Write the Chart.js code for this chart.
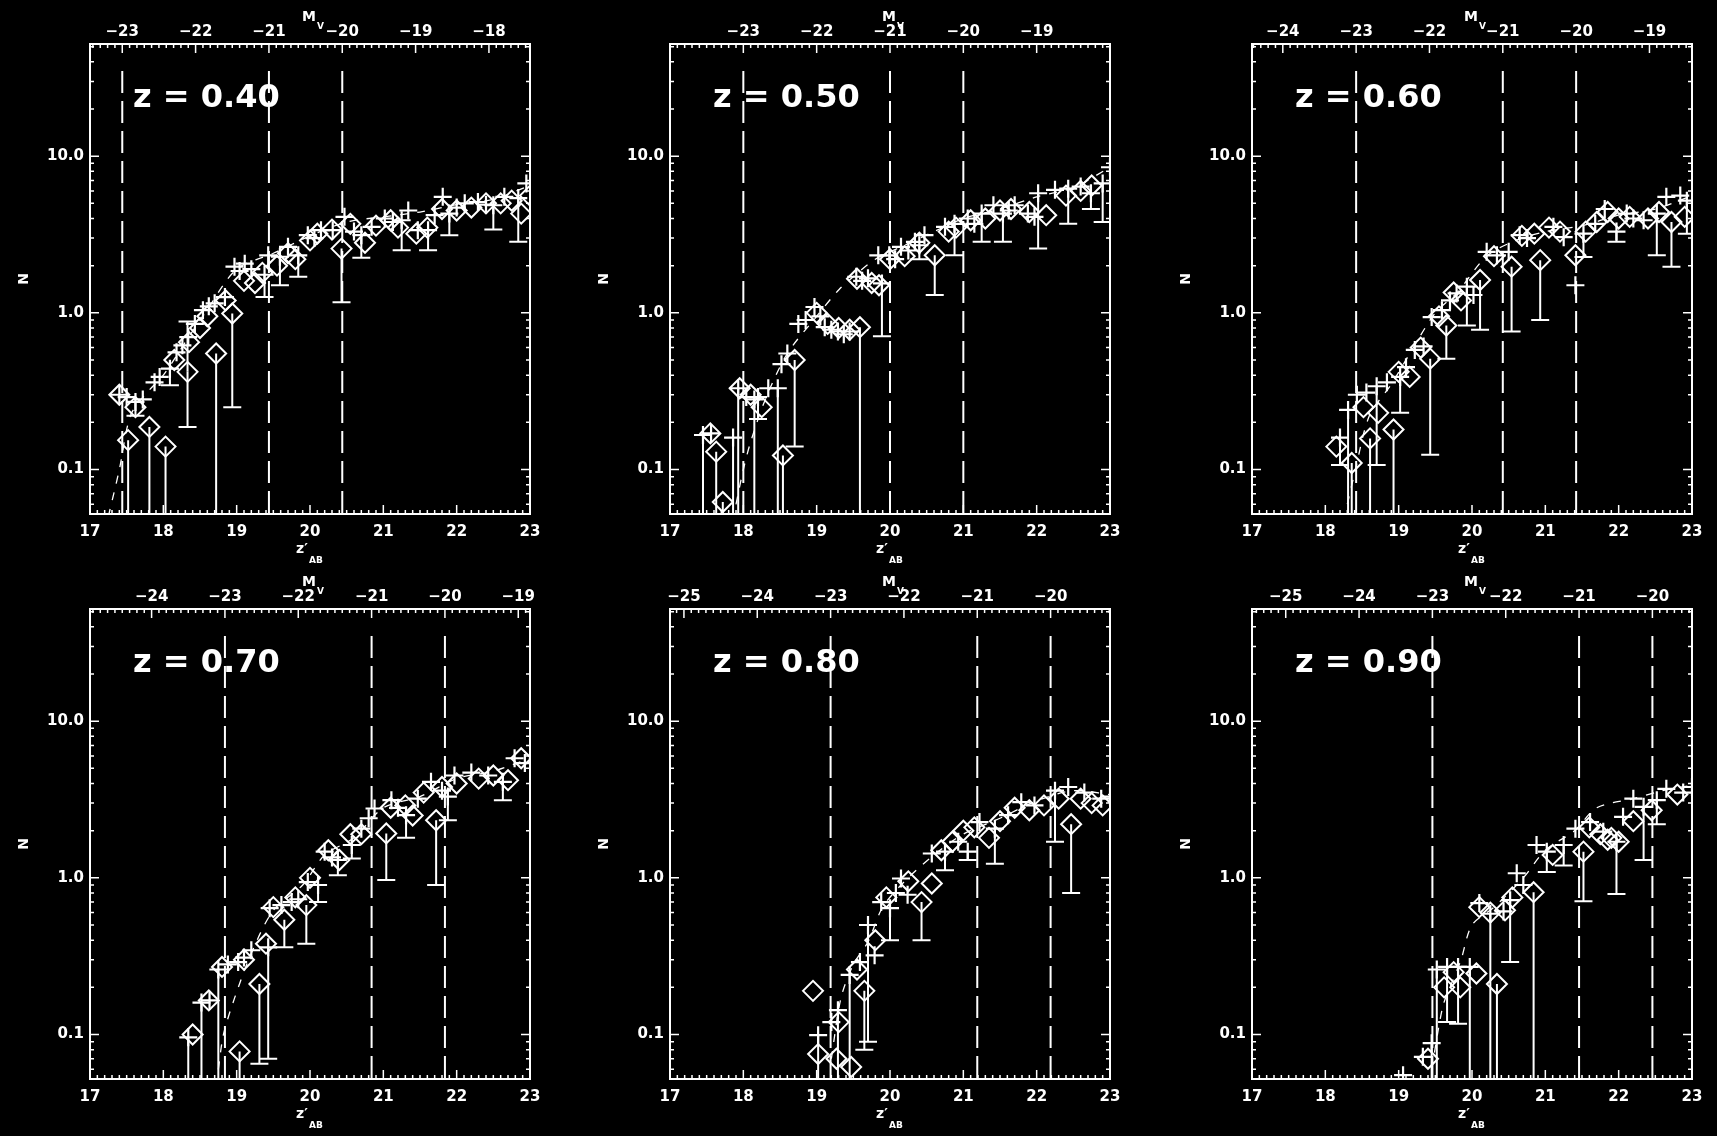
<!DOCTYPE html>
<html lang="en">
<head>
<meta charset="UTF-8">
<title>Galaxy counts by redshift</title>
<script src="https://cdn.jsdelivr.net/npm/chart.js"></script>
<style>
  html, body { margin: 0; padding: 0; background: #000; }
  body { width: 1717px; height: 1136px; position: relative; overflow: hidden; }
  canvas { position: absolute; }
</style>
</head>
<body>
<canvas id="p0"></canvas>
<canvas id="p1"></canvas>
<canvas id="p2"></canvas>
<canvas id="p3"></canvas>
<canvas id="p4"></canvas>
<canvas id="p5"></canvas>

<script>
  // ---- data, one entry per panel (z = 0.4 ... 0.9) ----
  const zLabels = ['z = 0.40', 'z = 0.50', 'z = 0.60', 'z = 0.70', 'z = 0.80', 'z = 0.90'];
  const mvOffset = [40.44, 41.0, 41.42, 41.84, 42.19, 42.46];   // z' - M_V
  const topTicks = [
    [-23, -22, -21, -20, -19, -18],
    [-23, -22, -21, -20, -19],
    [-24, -23, -22, -21, -20, -19],
    [-24, -23, -22, -21, -20, -19],
    [-25, -24, -23, -22, -21, -20],
    [-25, -24, -23, -22, -21, -20]
  ];
  const xTicks = [17, 18, 19, 20, 21, 22, 23];
  const yTicks = [0.1, 1, 10];
  const cutM = [-23, -21, -20];

  // plus symbols: position, value, lower bound (null = no visible bar, 0.01 = runs off the bottom)
  const crossX = [
    [17.40,17.50,17.62,17.72,17.88,17.95,18.09,18.18,18.26,18.34,18.43,18.54,18.62,18.70,18.84,18.97,19.04,19.11,19.20,19.38,19.43,19.59,19.70,19.84,19.97,20.06,20.15,20.31,20.47,20.60,20.70,20.84,21.02,21.13,21.25,21.34,21.47,21.61,21.70,21.81,21.90,22.00,22.11,22.29,22.40,22.50,22.65,22.84,22.95],
    [17.45,17.56,17.86,17.93,18.04,18.15,18.20,18.34,18.47,18.52,18.60,18.75,18.85,18.97,19.05,19.11,19.20,19.29,19.37,19.45,19.54,19.62,19.70,19.89,19.84,19.99,20.07,20.15,20.25,20.34,20.40,20.47,20.75,20.88,21.06,21.15,21.25,21.41,21.54,21.62,21.70,21.88,21.97,22.02,22.25,22.43,22.60,22.74,22.90,23.00],
    [18.20,18.31,18.43,18.56,18.70,18.84,19.02,19.10,19.22,19.34,19.45,19.59,19.70,19.79,19.93,20.02,20.20,20.34,20.50,20.65,20.75,21.11,21.25,21.41,21.52,21.68,21.81,21.97,22.11,22.20,22.34,22.52,22.65,22.84,22.93],
    [18.34,18.52,18.63,18.75,18.88,19.02,19.10,19.20,19.43,19.45,19.61,19.75,19.84,19.97,20.11,20.20,20.30,20.38,20.57,20.70,20.80,20.88,21.11,21.20,21.31,21.47,21.65,21.80,21.88,21.97,22.20,22.43,22.63,22.79,22.93],
    [19.02,19.20,19.29,19.45,19.59,19.70,19.79,19.88,20.00,20.08,20.15,20.24,20.57,20.75,20.93,21.06,21.22,21.43,21.61,21.79,21.97,22.25,22.43,22.65,22.88,23.00],
    [19.06,19.33,19.45,19.52,19.66,19.81,19.97,20.10,20.25,20.43,20.52,20.61,20.70,20.88,21.02,21.25,21.41,21.61,21.79,21.97,22.06,22.20,22.34,22.52,22.65,22.88,23.00]
  ];
  const crossY = [
    [0.30,0.29,0.27,0.28,0.36,0.39,0.44,0.56,0.62,0.70,0.85,1.04,1.10,1.15,1.26,1.97,1.85,2.06,1.90,1.75,2.33,2.28,2.64,2.33,3.13,3.00,3.37,3.37,4.10,3.30,3.13,3.54,4.00,3.80,3.90,4.50,3.37,3.37,4.20,5.50,4.30,4.70,5.00,5.10,4.90,4.86,5.50,5.40,6.70],
    [0.166,0.17,0.16,0.33,0.29,0.28,0.29,0.33,0.33,0.47,0.55,0.85,0.90,1.09,0.95,0.81,0.78,0.76,0.73,0.76,1.70,1.60,1.66,1.54,2.33,2.33,2.20,2.64,2.50,2.84,2.70,3.13,3.54,3.70,4.00,3.70,4.30,4.86,4.30,4.50,4.86,4.30,4.10,5.80,6.10,6.20,6.40,5.80,6.70,8.50],
    [0.16,0.24,0.30,0.31,0.34,0.36,0.39,0.45,0.58,0.61,0.94,1.04,1.20,1.33,1.47,1.30,2.45,2.33,2.45,3.13,3.00,3.54,3.04,1.50,3.20,3.70,4.60,3.30,4.30,4.00,3.90,4.30,5.50,5.60,5.20],
    [0.096,0.16,0.165,0.26,0.28,0.29,0.31,0.345,0.36,0.64,0.67,0.70,0.73,0.94,0.90,1.47,1.35,1.30,1.62,2.06,2.40,2.77,3.13,2.80,2.51,3.20,4.10,3.60,3.30,4.50,4.70,4.50,4.10,5.80,5.40],
    [0.099,0.12,0.143,0.24,0.29,0.50,0.32,0.70,0.64,0.80,0.99,0.78,1.43,1.47,1.70,1.47,2.27,2.06,2.51,3.04,2.90,3.60,3.80,3.50,3.20,3.30],
    [0.055,0.072,0.088,0.26,0.27,0.27,0.27,0.69,0.59,0.61,0.72,1.07,0.90,1.62,1.47,1.62,2.06,2.27,1.97,1.70,2.45,3.20,2.84,3.13,3.70,3.50,3.80]
  ];
  const crossLo = [
    [null,null,0.22,null,null,null,0.345,null,null,null,null,null,null,null,null,null,null,null,null,1.26,null,1.50,null,1.70,null,null,null,null,null,null,2.25,null,null,null,2.51,null,null,2.51,null,null,3.13,null,null,null,null,3.40,null,2.84,null],
    [0.01,null,0.01,0.01,null,0.01,0.21,null,0.01,null,null,null,null,null,null,null,null,null,null,null,null,null,null,0.71,null,null,null,null,null,null,2.20,null,null,2.33,null,null,2.84,null,2.84,null,null,null,null,2.57,null,3.70,null,4.60,3.80,null],
    [0.107,0.01,null,null,0.107,null,0.23,null,null,null,null,null,null,null,0.83,null,null,null,null,null,null,null,null,null,2.27,null,null,2.84,null,null,null,2.33,null,null,3.20],
    [0.01,0.01,null,0.01,null,null,null,null,0.07,null,null,null,null,null,0.70,null,null,1.04,1.33,null,null,null,null,null,1.80,null,null,null,2.33,null,null,null,3.13,null,null],
    [0.01,null,0.01,0.01,null,0.09,null,null,0.40,null,null,null,null,1.12,null,1.30,null,1.23,null,null,null,1.70,null,null,null,null],
    [null,null,0.01,0.01,0.12,0.117,0.01,null,0.01,null,0.29,null,null,null,1.09,1.20,null,null,null,0.79,null,null,1.30,2.20,null,null,null]
  ];

  // diamonds: position, value, lower and upper bounds
  const diaX = [
    [17.40,17.52,17.62,17.81,18.03,18.15,18.33,18.50,18.72,18.94,19.10,19.25,19.55,19.80,20.10,20.43,20.55,20.75,21.20,21.45,21.80,22.20,22.60,22.88,23.00,
     18.35,18.60,18.85,19.35,19.70,20.00,20.30,20.90,21.10,21.60,22.00,22.40,22.75],
    [17.55,17.63,17.72,17.95,18.10,18.25,18.54,18.70,19.00,19.30,19.59,19.75,19.85,20.20,20.61,20.90,21.30,21.65,22.13,22.40,22.75,
     19.15,19.45,19.55,20.00,20.40,20.80,21.10,21.50,21.90,22.60],
    [18.15,18.36,18.52,18.61,18.72,18.93,19.15,19.43,19.65,19.85,20.11,20.54,20.68,20.93,21.05,21.41,21.70,22.00,22.40,22.72,22.90,
     19.00,19.30,19.55,19.75,20.30,20.85,21.20,21.55,21.85,22.15,22.55],
    [18.40,18.62,18.80,19.04,19.31,19.40,19.65,19.95,20.00,20.25,20.55,21.04,21.10,21.40,21.72,21.80,22.30,22.70,22.88,
     19.10,19.50,19.80,20.40,20.70,21.30,21.55,22.00,22.50],
    [18.95,19.02,19.27,19.30,19.47,19.55,19.65,19.80,19.95,20.25,20.43,20.57,20.70,21.00,21.35,21.70,22.10,22.47,22.60,22.90,
     20.85,21.15,21.50,21.90,22.30,22.75],
    [19.40,19.62,19.84,20.06,20.34,20.55,20.84,21.10,21.52,21.85,22.20,22.45,22.80,
     19.75,20.10,20.25,20.45,21.60,21.75,21.90,22.00]
  ];
  const diaY = [
    [0.30,0.154,0.25,0.187,0.14,0.50,0.42,0.80,0.55,0.99,1.60,1.55,2.00,2.20,3.20,2.57,3.70,2.80,3.50,3.20,4.60,4.70,5.00,4.30,5.60,
     0.65,0.95,1.20,1.80,2.40,2.90,3.40,3.60,3.90,3.50,4.50,5.00,5.20],
    [0.17,0.13,0.062,0.33,0.30,0.25,0.123,0.50,1.00,0.80,0.81,1.55,1.50,2.30,2.33,3.50,4.00,4.60,4.20,5.60,6.50,
     0.85,0.78,1.65,2.20,2.80,3.30,3.90,4.50,4.40,6.00],
    [0.14,0.11,0.25,0.158,0.23,0.18,0.39,0.51,0.83,1.20,1.62,1.97,3.10,2.17,3.50,2.33,3.80,4.00,4.00,3.80,4.10,
     0.42,0.60,0.95,1.35,2.30,3.20,3.30,3.30,4.40,4.10,4.40],
    [0.10,0.165,0.27,0.078,0.21,0.38,0.54,0.67,1.00,1.50,1.90,1.92,2.80,2.50,2.33,3.80,4.30,4.20,5.80,
     0.30,0.65,0.75,1.30,1.90,2.90,3.50,4.00,4.50],
    [0.19,0.075,0.07,0.12,0.062,0.26,0.19,0.40,0.75,0.95,0.70,0.92,1.50,2.00,1.80,2.80,2.90,2.20,3.20,2.90,
     1.70,2.10,2.30,2.70,3.20,3.00],
    [0.07,0.20,0.20,0.245,0.21,0.75,0.81,1.40,1.47,1.75,2.30,2.70,3.40,
     0.25,0.65,0.60,0.62,2.10,1.90,1.80,1.70]
  ];
  const diaLo = [
    [null,0.01,null,0.01,0.01,null,0.187,null,0.01,0.25,null,null,null,null,null,1.17],
    [null,0.01,0.01,null,null,null,0.01,0.14,null,null,0.01,null,null,null,1.30],
    [null,0.01,null,0.01,null,0.01,null,0.124,0.51,null,0.78,0.76,null,0.90,null,null,null,null,null,1.97],
    [null,null,null,0.01,0.065,null,0.36,0.38,null,null,null,0.97,null,null,0.90],
    [null,null,null,null,null,null,0.08,null,null,null,0.40,null,null,null,null,null,null,0.80],
    [null,null,null,null,0.01,null,0.01,null,0.71]
  ];
  const diaHi = [
    [null,null,null,null,null,null,0.88],
    [], [], [], [], []
  ];

  // dashed model curve
  const modelX = [
    [17.25,17.40,17.55,17.75,18.00,18.30,18.60,19.00,19.50,20.00,20.50,21.00,21.50,22.00,22.50,23.00],
    [17.90,18.00,18.10,18.30,18.60,19.00,19.30,19.50,19.80,20.20,20.60,21.00,21.50,22.00,22.50,23.00],
    [18.30,18.40,18.60,18.90,19.20,19.50,19.80,20.20,20.60,21.00,21.50,22.00,22.50,23.00],
    [18.75,18.82,18.97,19.20,19.50,19.90,20.20,20.60,21.00,21.50,22.00,22.50,23.00],
    [19.20,19.33,19.50,19.70,19.90,20.20,20.60,21.00,21.50,22.00,22.50,23.00],
    [19.45,19.60,19.70,19.85,20.00,20.30,20.70,21.00,21.40,21.70,22.20,22.60,23.00]
  ];
  const modelY = [
    [0.05,0.10,0.22,0.30,0.40,0.65,1.05,1.90,2.40,3.10,3.80,4.10,4.40,4.90,5.30,6.50],
    [0.06,0.10,0.15,0.28,0.55,0.95,1.40,1.70,2.20,2.70,3.30,4.00,4.60,5.50,6.30,8.50],
    [0.06,0.095,0.22,0.35,0.60,1.00,1.35,2.30,2.90,3.30,3.60,4.20,4.60,5.60],
    [0.06,0.10,0.17,0.33,0.62,0.90,1.40,1.80,2.80,3.30,4.30,4.80,5.80],
    [0.07,0.17,0.28,0.39,0.65,0.95,1.40,1.90,2.40,3.10,3.60,3.40],
    [0.06,0.15,0.20,0.30,0.50,0.65,1.00,1.50,2.00,2.80,3.20,3.60,3.90]
  ];

  // ---- layout ----
  const plotLefts = [90, 670, 1252];
  const rowTops = [0, 565];
  const rowHeights = [565, 571];
  const AXIS_L = 90, AXIS_T = 44, PLOT_W = 440, PLOT_H = 470, PAD_R = 25;
  const Y_MIN = 0.052, Y_MAX = 52, CUT_TOP = 35;
  const FONT = "'DejaVu Sans', sans-serif";
  const tickFont = { family: FONT, size: 15, weight: 'bold' };

  // inward tick marks and frame, like the original plot
  const frameTicks = {
    id: 'frameTicks',
    afterDatasetsDraw(chart) {
      const { ctx, chartArea: a, scales } = chart;
      const x = scales.x, x2 = scales.x2, y = scales.y;
      ctx.save();
      ctx.strokeStyle = '#fff';
      ctx.lineWidth = 1.5;
      ctx.beginPath();
      for (let k = 170; k <= 230; k++) {
        const px = x.getPixelForValue(k / 10);
        const len = k % 10 === 0 ? 9 : 4;
        ctx.moveTo(px, a.bottom); ctx.lineTo(px, a.bottom - len);
      }
      for (let k = Math.ceil(x2.min * 10); k <= Math.floor(x2.max * 10); k++) {
        const px = x2.getPixelForValue(k / 10);
        const len = k % 10 === 0 ? 9 : 4;
        ctx.moveTo(px, a.top); ctx.lineTo(px, a.top + len);
      }
      for (let d = -2; d <= 1; d++) {
        for (let m = 1; m <= 9; m++) {
          const v = m * Math.pow(10, d);
          if (v < y.min || v > y.max) continue;
          const py = y.getPixelForValue(v);
          const len = m === 1 ? 9 : 4;
          ctx.moveTo(a.left, py); ctx.lineTo(a.left + len, py);
          ctx.moveTo(a.right, py); ctx.lineTo(a.right - len, py);
        }
      }
      ctx.stroke();
      ctx.lineWidth = 2;
      ctx.strokeRect(a.left, a.top, a.right - a.left, a.bottom - a.top);
      ctx.restore();
    }
  };

  // vertical error bars with caps
  const errorBars = {
    id: 'errorBars',
    beforeDatasetsDraw(chart) {
      const { ctx, chartArea: a, scales: { y } } = chart;
      ctx.save();
      ctx.beginPath();
      ctx.rect(a.left, a.top, a.right - a.left, a.bottom - a.top);
      ctx.clip();
      ctx.strokeStyle = '#fff';
      ctx.lineWidth = 2;
      chart.data.datasets.forEach((ds, i) => {
        if (!ds.errLo) return;
        const meta = chart.getDatasetMeta(i);
        meta.data.forEach((pt, j) => {
          [ds.errLo[j], ds.errHi ? ds.errHi[j] : null].forEach(b => {
            if (b == null) return;
            const py = y.getPixelForValue(b);
            ctx.beginPath();
            ctx.moveTo(pt.x, pt.y); ctx.lineTo(pt.x, py);
            ctx.moveTo(pt.x - 9, py); ctx.lineTo(pt.x + 9, py);
            ctx.stroke();
          });
        });
      });
      ctx.restore();
    }
  };

  // redshift label and axis titles with subscripts
  const panelText = {
    id: 'panelText',
    afterDraw(chart, args, opts) {
      const { ctx, chartArea: a } = chart;
      const cx = (a.left + a.right) / 2;
      ctx.save();
      ctx.fillStyle = '#fff';
      ctx.textBaseline = 'alphabetic';
      ctx.textAlign = 'left';
      ctx.font = 'bold 32px ' + FONT;
      ctx.fillText(opts.label, a.left + 43, a.top + 63);

      ctx.font = 'bold 14px ' + FONT;
      ctx.fillText('M', cx - 8, a.top - 23);
      ctx.font = 'bold 9px ' + FONT;
      ctx.fillText('V', cx + 7, a.top - 15);

      ctx.font = 'bold 14px ' + FONT;
      ctx.fillText('z\u2032', cx - 14, a.bottom + 39);
      ctx.font = 'bold 9px ' + FONT;
      ctx.fillText('AB', cx - 1, a.bottom + 49);

      ctx.font = 'bold 14px ' + FONT;
      ctx.translate(a.left - 67, (a.top + a.bottom) / 2);
      ctx.rotate(-Math.PI / 2);
      ctx.textAlign = 'center';
      ctx.fillText('N', 0, 5);
      ctx.restore();
    }
  };

  function pts(xs, ys) {
    return xs.map((x, i) => ({ x: x, y: ys[i] }));
  }

  for (let p = 0; p < 6; p++) {
    const col = p % 3, row = Math.floor(p / 3);
    const off = mvOffset[p];
    const H = rowHeights[row];
    const W = AXIS_L + PLOT_W + PAD_R;
    const cv = document.getElementById('p' + p);
    cv.width = W; cv.height = H;
    cv.style.left = (plotLefts[col] - AXIS_L) + 'px';
    cv.style.top = rowTops[row] + 'px';

    const datasets = [];
    cutM.forEach(m => {
      datasets.push({
        data: [{ x: m + off, y: CUT_TOP }, { x: m + off, y: Y_MIN }],
        showLine: true, pointRadius: 0, borderColor: '#fff', borderWidth: 2,
        borderDash: [22, 8], clip: 0
      });
    });
    datasets.push({
      data: pts(modelX[p], modelY[p]),
      showLine: true, pointRadius: 0, borderColor: '#fff', borderWidth: 1.3,
      borderDash: [8, 9], tension: 0.3, clip: 0
    });
    datasets.push({
      data: pts(diaX[p], diaY[p]),
      errLo: diaLo[p], errHi: diaHi[p],
      pointStyle: 'rectRot', pointRadius: 10, borderColor: '#fff', borderWidth: 2,
      backgroundColor: 'rgba(0,0,0,0)', clip: 0
    });
    datasets.push({
      data: pts(crossX[p], crossY[p]),
      errLo: crossLo[p],
      pointStyle: 'cross', pointRadius: 9, borderColor: '#fff', borderWidth: 2.2, clip: 0
    });

    new Chart(cv, {
      type: 'scatter',
      data: { datasets: datasets },
      plugins: [errorBars, frameTicks, panelText],
      options: {
        responsive: false,
        animation: false,
        devicePixelRatio: 1,
        layout: { padding: { right: PAD_R, left: 0, top: 0, bottom: 0 } },
        plugins: {
          legend: { display: false },
          tooltip: { enabled: false },
          panelText: { label: zLabels[p] }
        },
        scales: {
          x: {
            type: 'linear', position: 'bottom', min: 17, max: 23,
            afterBuildTicks: s => { s.ticks = xTicks.map(v => ({ value: v })); },
            afterFit: s => { s.height = H - AXIS_T - PLOT_H; },
            grid: { display: false, drawTicks: false },
            border: { display: false },
            ticks: { color: '#fff', font: tickFont, padding: 9, maxRotation: 0, autoSkip: false,
                     callback: v => String(v) }
          },
          x2: {
            type: 'linear', axis: 'x', position: 'top', min: 17 - off, max: 23 - off,
            afterBuildTicks: s => { s.ticks = topTicks[p].map(v => ({ value: v })); },
            afterFit: s => { s.height = AXIS_T; },
            grid: { display: false, drawTicks: false },
            border: { display: false },
            ticks: { color: '#fff', font: tickFont, padding: 3, maxRotation: 0, autoSkip: false,
                     callback: v => '\u2212' + Math.abs(v) }
          },
          y: {
            type: 'logarithmic', position: 'left', min: Y_MIN, max: Y_MAX,
            afterBuildTicks: s => { s.ticks = yTicks.map(v => ({ value: v })); },
            afterFit: s => { s.width = AXIS_L; },
            grid: { display: false, drawTicks: false },
            border: { display: false },
            ticks: { color: '#fff', font: tickFont, padding: 6, autoSkip: false,
                     callback: v => Number(v).toFixed(1) }
          }
        }
      }
    });
  }
</script>
</body>
</html>
